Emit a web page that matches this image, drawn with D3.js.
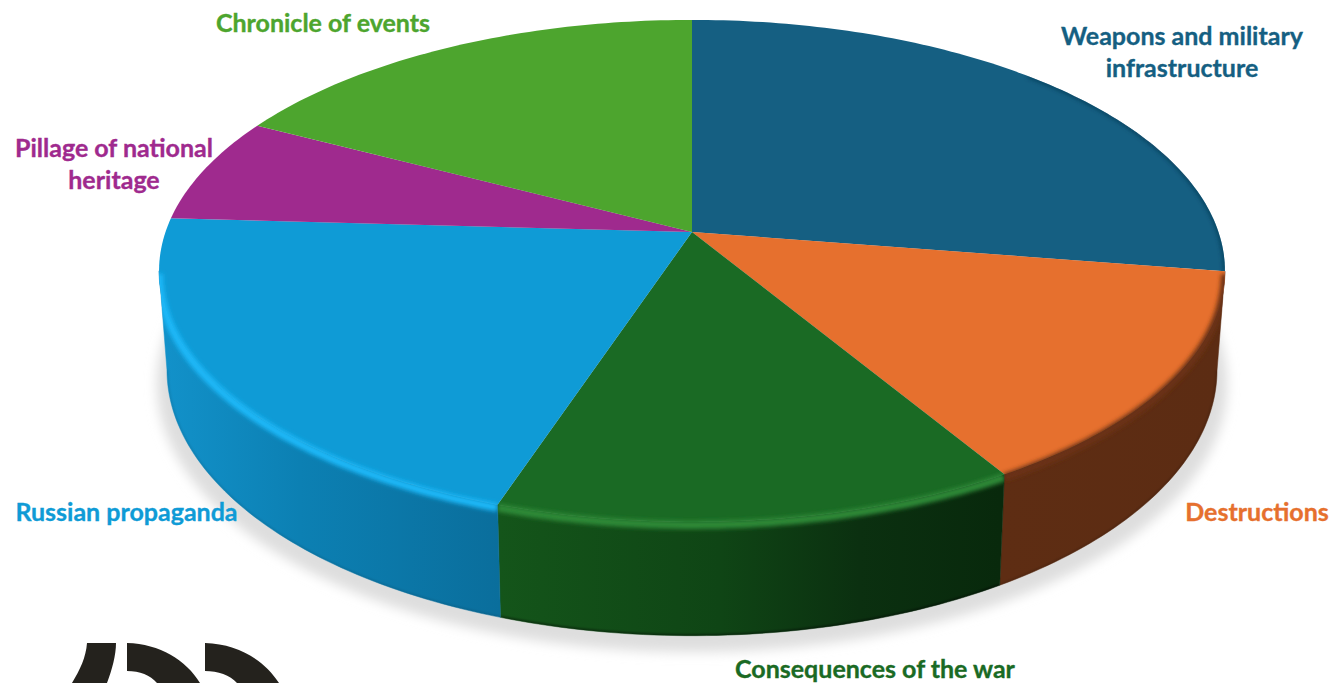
<!DOCTYPE html>
<html>
<head>
<meta charset="utf-8">
<script src="https://cdn.jsdelivr.net/npm/d3@7"></script>
<style>
  html, body { margin: 0; background: #fff; overflow: hidden; }
  text { font-family: Lato, sans-serif; font-weight: 700; font-size: 25px; text-anchor: middle; stroke-width: 0.35px; }
</style>
</head>
<body>
<div id="chart"></div>
<script>
const categories = ['Weapons and military infrastructure', 'Destructions', 'Consequences of the war',
    'Russian propaganda', 'Pillage of national heritage', 'Chronicle of events'];
const shares = [27.5, 13.9, 13.7, 20.8, 6.8, 17.3];
const labelLines = [['Weapons and military', 'infrastructure'], ['Destructions'], ['Consequences of the war'],
    ['Russian propaganda'], ['Pillage of national', 'heritage'], ['Chronicle of events']];

const topColors = ['#155f82', '#e6702e', '#1a6a24', '#0f9bd6', '#9f2a8e', '#4da52e'];
const rimColors = ['#0b3a55', '#6a3215', '#2f8a38', '#1ab8f8', null, null];
const rimStart = [45, 0, 0, 0, 0, 0];
const rimDrop = [0, 3, 3, 3, 0, 0];
const rimWidth = [3, 8, 8, 8, 0, 0];
const lipOpacity = [0, 0.15, 0.45, 0.1, 0, 0];
const labelAnchors = [[1182, 44.5], [1257, 521], [875, 678], [126.5, 521], [114, 156.5], [323, 32]];

const width = 1331;
const height = 683;
const cx = 692;
const persp = 0.155;

// front faces the viewer, so the circle is foreshortened about an off-centre apex
const topRim = {y0: 232, a: 245, A: 526.5};
const lowRim = {y0: 328.6, a: 259.5, A: 518.7};
const wallFrom = 98.9 * Math.PI / 180;
const wallTo = 261.1 * Math.PI / 180;
const step = Math.PI / 180;

function project(rim, angle) {
    const u = Math.sin(angle);
    const v = -Math.cos(angle);
    const w = 1 - persp * v;
    return [cx + rim.A * u / w, rim.y0 + rim.a * v / w];
}

function arcPoints(rim, a0, a1) {
    const n = Math.max(2, Math.ceil(Math.abs(a1 - a0) / step));
    return d3.range(n + 1).map(i => project(rim, a0 + (a1 - a0) * i / n));
}

const line = d3.line();
const closed = pts => line(pts) + 'Z';

const svg = d3.select('#chart').append('svg')
    .attr('width', width)
    .attr('height', height)
    .attr('viewBox', `0 0 ${width} ${height}`)
    .style('display', 'block');

const defs = svg.append('defs');
const blur = (id, s) => defs.append('filter').attr('id', id)
    .attr('filterUnits', 'userSpaceOnUse')
    .attr('x', 0).attr('y', 0).attr('width', width).attr('height', height)
    .append('feGaussianBlur').attr('stdDeviation', s);
blur('soft', 2);
blur('ground', 6);
blur('edge', 1);

const wallStops = {
    3: [[167, '#1291c9'], [300, '#0c80b3'], [500, '#0a6e9c']],
    2: [[498, '#14551a'], [720, '#0f4515'], [860, '#0b3010'], [1000, '#08290c']],
    1: [[998, '#5e2d13'], [1220, '#5c2c13']]
};
Object.entries(wallStops).forEach(([i, stops]) => {
    const g = defs.append('linearGradient').attr('id', `wall${i}`)
        .attr('gradientUnits', 'userSpaceOnUse')
        .attr('x1', stops[0][0]).attr('x2', stops[stops.length - 1][0]).attr('y1', 0).attr('y2', 0);
    stops.forEach(s => g.append('stop')
        .attr('offset', (s[0] - stops[0][0]) / (stops[stops.length - 1][0] - stops[0][0]))
        .attr('stop-color', s[1]));
});

const slices = d3.pie().sort(null)(shares);

// ground shadow
svg.append('path')
    .attr('d', closed(arcPoints({y0: lowRim.y0 + 14, a: lowRim.a + 2, A: lowRim.A + 10}, 0, 2 * Math.PI)))
    .attr('fill', '#dedede')
    .attr('filter', 'url(#ground)');

// walls
const walls = slices.map(d => ({
    d,
    from: Math.max(d.startAngle, wallFrom),
    to: Math.min(d.endAngle, wallTo)
})).filter(w => w.to > w.from);
const wallPath = w => closed(arcPoints(topRim, w.from, w.to).concat(arcPoints(lowRim, w.to, w.from)));
const facePath = d => closed([[cx, topRim.y0]].concat(arcPoints(topRim, d.startAngle, d.endAngle)));

svg.selectAll('path.wall')
    .data(walls)
    .enter()
    .append('path')
    .attr('class', 'wall')
    .attr('d', wallPath)
    .attr('fill', w => `url(#wall${w.d.index})`)
    .attr('stroke', w => `url(#wall${w.d.index})`)
    .attr('stroke-width', 0.5);

// top faces
svg.selectAll('path.slice')
    .data(slices)
    .enter()
    .append('path')
    .attr('class', 'slice')
    .attr('d', facePath)
    .attr('fill', d => topColors[d.index])
    .append('title')
    .text(d => categories[d.index]);

// bevel along the front rim, kept inside each slice and its wall
slices.forEach(d => {
    const wall = walls.find(w => w.d.index === d.index);
    defs.append('clipPath').attr('id', `clip${d.index}`)
        .append('path')
        .attr('d', facePath(d) + (wall ? wallPath(wall) : ''));
});

const rimSpan = d => [Math.max(d.startAngle, rimStart[d.index] * step), Math.min(d.endAngle, wallTo)];

svg.append('g').selectAll('g.rim')
    .data(slices.filter(d => rimColors[d.index]))
    .enter()
    .append('g')
    .attr('class', 'rim')
    .attr('clip-path', d => `url(#clip${d.index})`)
    .append('path')
    .attr('d', d => line(arcPoints(topRim, rimSpan(d)[0], rimSpan(d)[1])))
    .attr('transform', d => `translate(0,${rimDrop[d.index]})`)
    .attr('fill', 'none')
    .attr('stroke', d => rimColors[d.index])
    .attr('stroke-width', d => rimWidth[d.index])
    .attr('filter', 'url(#soft)');

// darker lip where the wall meets the ground
svg.append('g').selectAll('g.lip')
    .data(walls)
    .enter()
    .append('g')
    .attr('class', 'lip')
    .attr('clip-path', w => `url(#clip${w.d.index})`)
    .append('path')
    .attr('d', w => line(arcPoints(lowRim, w.from, w.to)))
    .attr('fill', 'none')
    .attr('stroke', '#000')
    .attr('stroke-opacity', w => lipOpacity[w.d.index])
    .attr('stroke-width', 3)
    .attr('filter', 'url(#edge)');

// labels
svg.selectAll('text.label')
    .data(labelLines)
    .enter()
    .append('text')
    .attr('class', 'label')
    .attr('fill', (d, i) => topColors[i])
    .attr('stroke', (d, i) => topColors[i])
    .attr('x', (d, i) => labelAnchors[i][0])
    .attr('y', (d, i) => labelAnchors[i][1])
    .selectAll('tspan')
    .data((d, i) => d.map(t => ({t, x: labelAnchors[i][0]})))
    .enter()
    .append('tspan')
    .attr('x', d => d.x)
    .attr('dy', (d, i) => i ? 32 : 0)
    .text(d => d.t);

// logo, cut off by the bottom edge
svg.append('g').attr('fill', '#24221d').selectAll('path')
    .data([
        'M87,643 L116,643 C116,655 112,670 107,683 L72,683 C80,670 86,657 87,643Z',
        'M127,643 C160,644 186,660 200,683 L157,683 C150,675 140,671 127,671Z',
        'M205,643 C238,644 264,660 279,683 L237,683 C230,675 218,671 205,671Z'
    ])
    .enter()
    .append('path')
    .attr('d', d => d);
</script>
</body>
</html>
